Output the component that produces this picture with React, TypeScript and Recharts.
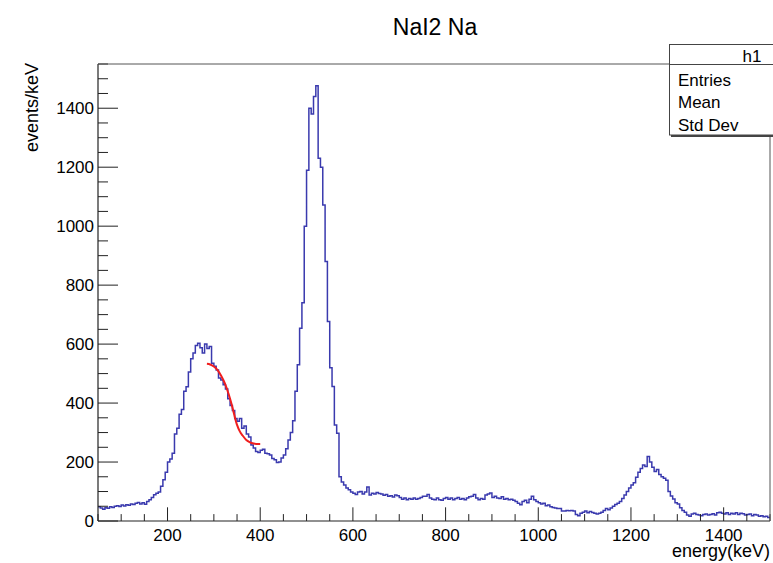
import React from 'react';
import { ComposedChart, Line, XAxis, YAxis } from 'recharts';

// histogram: 5 keV bins starting at 50 keV
const binStart = 50;
const binWidth = 5;

// 50 .. 295 keV
const countsLow = [
  48, 44, 40, 45, 43, 48, 46, 50, 52, 49,
  54, 51, 55, 53, 58, 56, 60, 63, 58, 62,
  57, 66, 72, 80, 89, 94, 98, 118, 140, 165,
  200, 210, 230, 295, 315, 362, 378, 440, 455, 505,
  550, 570, 595, 603, 588, 570, 600, 585, 592, 535,
];
// 300 .. 495 keV
const countsCompton = [
  525, 512, 485, 478, 462, 448, 415, 392, 375, 348,
  338, 348, 315, 322, 295, 285, 258, 248, 236, 232,
  240, 243, 230, 228, 224, 212, 208, 198, 200, 214,
  224, 245, 275, 300, 340, 440, 530, 654, 740, 1000,
];
// 500 .. 695 keV
const countsPeak = [
  1190, 1400, 1380, 1440, 1476, 1230, 1200, 1072, 880, 677,
  520, 456, 326, 298, 150, 132, 122, 112, 106, 98,
  94, 90, 98, 100, 92, 98, 115, 88, 94, 92,
  97, 93, 92, 87, 90, 84, 86, 81, 88, 86,
];
// 700 .. 1095 keV
const countsMid = [
  80, 74, 78, 72, 76, 74, 78, 74, 76, 80,
  84, 84, 90, 78, 74, 72, 78, 72, 70, 76,
  80, 74, 78, 72, 76, 80, 74, 76, 72, 78,
  82, 84, 90, 78, 72, 76, 74, 88, 92, 95,
  80, 84, 78, 76, 82, 74, 76, 72, 74, 70,
  66, 60, 55, 66, 70, 62, 74, 84, 72, 66,
  62, 58, 60, 52, 54, 48, 46, 44, 42, 42,
  34, 34, 36, 35, 36, 34, 22, 18, 26, 30,
];
// 1100 .. 1495 keV
const countsHigh = [
  34, 28, 32, 29, 26, 24, 26, 30, 36, 42,
  38, 44, 50, 56, 60, 66, 76, 88, 100, 112,
  122, 130, 148, 165, 178, 190, 185, 219, 200, 182,
  168, 175, 158, 150, 145, 138, 100, 85, 75, 62,
  58, 45, 36, 30, 20, 16, 24, 26, 22, 20,
  18, 22, 24, 20, 22, 25, 20, 28, 30, 26,
  24, 28, 22, 26, 24, 28, 22, 26, 25, 20,
  22, 24, 18, 22, 20, 16, 18, 14, 16, 12,
];

// red fit curve
const fitEnergy = [285, 292, 300, 308, 316, 324, 332, 338, 344, 350, 356, 362, 370, 378, 386, 394, 400];
const fitValue = [533, 531, 524, 512, 492, 466, 430, 398, 360, 326, 304, 290, 275, 267, 263, 261, 261];

const xTicks = [
  50, 100, 150, 200, 250, 300, 350, 400, 450, 500, 550, 600, 650, 700, 750,
  800, 850, 900, 950, 1000, 1050, 1100, 1150, 1200, 1250, 1300, 1350, 1400, 1450, 1500,
];
const xLabels = [200, 400, 600, 800, 1000, 1200, 1400];
const yTicks = [
  0, 50, 100, 150, 200, 250, 300, 350, 400, 450, 500, 550, 600, 650, 700, 750,
  800, 850, 900, 950, 1000, 1050, 1100, 1150, 1200, 1250, 1300, 1350, 1400, 1450, 1500, 1550,
];
const yLabels = [0, 200, 400, 600, 800, 1000, 1200, 1400];

const counts = [...countsLow, ...countsCompton, ...countsPeak, ...countsMid, ...countsHigh];
const histData = counts.map((v, i) => ({ e: binStart + i * binWidth, v }));
histData.push({ e: binStart + counts.length * binWidth, v: counts[counts.length - 1] });
const fitData = fitEnergy.map((e, i) => ({ e, v: fitValue[i] }));

const FONT = '"Liberation Sans", Arial, Helvetica, sans-serif';

const XTick = ({ x, y, payload }: any) => {
  const major = xLabels.includes(payload.value);
  return (
    <g>
      <line x1={x} x2={x} y1={y} y2={y - (major ? 13.7 : 6.9)} stroke="#222" />
      {major && (
        <text x={x} y={y + 20} textAnchor="middle" fontSize={17} fontFamily={FONT} fill="#000">
          {payload.value}
        </text>
      )}
    </g>
  );
};

const YTick = ({ x, y, payload }: any) => {
  const major = yLabels.includes(payload.value);
  return (
    <g>
      <line x1={x} x2={x + (major ? 20 : 10)} y1={y} y2={y} stroke="#222" />
      {major && (
        <text x={x - 4} y={y + 6} textAnchor="end" fontSize={17} fontFamily={FONT} fill="#000">
          {payload.value}
        </text>
      )}
    </g>
  );
};

export default function App() {
  return (
    <div style={{ position: 'absolute', left: 0, top: 0, width: 773, height: 563, overflow: 'hidden', background: '#fff' }}>
      <ComposedChart width={773} height={563} margin={{ top: 64, right: 3, bottom: 0, left: 38 }}>
        <XAxis
          dataKey="e"
          type="number"
          domain={[50, 1500]}
          ticks={xTicks}
          interval={0}
          allowDataOverflow
          height={42}
          tickSize={0}
          tickMargin={0}
          tickLine={false}
          axisLine={{ stroke: '#222', strokeWidth: 1.2 }}
          tick={<XTick />}
        />
        <YAxis
          type="number"
          domain={[0, 1550]}
          ticks={yTicks}
          interval={0}
          allowDataOverflow
          width={60}
          tickSize={0}
          tickMargin={0}
          tickLine={false}
          axisLine={{ stroke: '#222', strokeWidth: 1.2 }}
          tick={<YTick />}
        />
        <Line
          data={histData}
          dataKey="v"
          type="stepAfter"
          stroke="#3a3aae"
          strokeWidth={1.5}
          dot={false}
          activeDot={false}
          isAnimationActive={false}
        />
        <Line
          data={fitData}
          dataKey="v"
          type="monotone"
          stroke="#f01e1e"
          strokeWidth={2}
          dot={false}
          activeDot={false}
          isAnimationActive={false}
        />
      </ComposedChart>
      <svg width={773} height={563} style={{ position: 'absolute', left: 0, top: 0, pointerEvents: 'none' }}>
        {/* frame top and right */}
        <line x1={98} x2={770} y1={64} y2={64} stroke="#555" />
        <line x1={770} x2={770} y1={64} y2={521} stroke="#555" />
        <text x={435} y={35} textAnchor="middle" fontSize={23} fontFamily={FONT} fill="#000">
          NaI2 Na
        </text>
        <text transform="translate(38,63) rotate(-90)" textAnchor="end" fontSize={18} fontFamily={FONT} fill="#000">
          events/keV
        </text>
        <text x={770} y={557} textAnchor="end" fontSize={18} fontFamily={FONT} fill="#000">
          energy(keV)
        </text>
        {/* stats box */}
        <rect x={669.5} y={44.5} width={140} height={90.5} fill="#fff" stroke="#444" />
        <line x1={671} x2={800} y1={136} y2={136} stroke="#444" strokeWidth={2} />
        <line x1={669.5} x2={800} y1={64.5} y2={64.5} stroke="#444" />
        <text x={752} y={62} textAnchor="middle" fontSize={17} fontFamily={FONT} fill="#000">h1</text>
        <text x={678} y={86} fontSize={17} fontFamily={FONT} fill="#000">Entries</text>
        <text x={678} y={108} fontSize={17} fontFamily={FONT} fill="#000">Mean</text>
        <text x={678} y={131} fontSize={17} fontFamily={FONT} fill="#000">Std Dev</text>
      </svg>
    </div>
  );
}
